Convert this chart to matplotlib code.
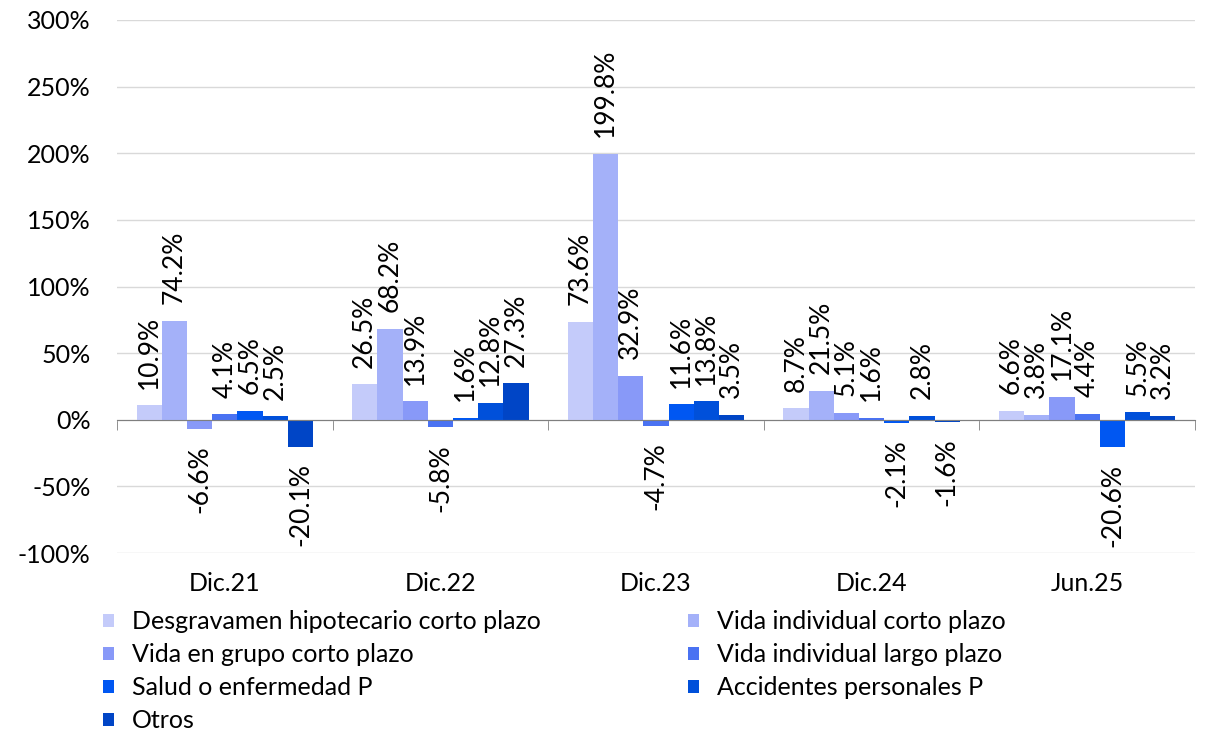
import numpy as np
import matplotlib.pyplot as plt
from matplotlib.ticker import FuncFormatter
from matplotlib.transforms import blended_transform_factory

plt.rcParams['font.family'] = ['Lato', 'DejaVu Sans']

periods = ["Dic.21", "Dic.22", "Dic.23", "Dic.24", "Jun.25"]

series_names = [
    "Desgravamen hipotecario corto plazo",
    "Vida individual corto plazo",
    "Vida en grupo corto plazo",
    "Vida individual largo plazo",
    "Salud o enfermedad P",
    "Accidentes personales P",
    "Otros",
]

desgravamen = [10.9, 26.5, 73.6, 8.7, 6.6]
vida_ind_corto = [74.2, 68.2, 199.8, 21.5, 3.8]
vida_grupo_corto = [-6.6, 13.9, 32.9, 5.1, 17.1]
vida_ind_largo = [4.1, -5.8, -4.7, 1.6, 4.4]
salud = [6.5, 1.6, 11.6, -2.1, -20.6]
accidentes = [2.5, 12.8, 13.8, 2.8, 5.5]
otros = [-20.1, 27.3, 3.5, -1.6, 3.2]

series_values = [desgravamen, vida_ind_corto, vida_grupo_corto,
                 vida_ind_largo, salud, accidentes, otros]

colors = ["#C4CBFA", "#A4B1F9", "#8899F8", "#4A72F2",
          "#0057F2", "#0050DA", "#0045C6"]

fig = plt.figure(figsize=(12.1, 7.32), dpi=100)
ax = fig.add_axes([0.0967, 0.2445, 0.8909, 0.7282])

x = np.arange(len(periods))
width = 0.117
n = len(series_values)

for i, (vals, color) in enumerate(zip(series_values, colors)):
    offs = (i - (n - 1) / 2) * width
    bars = ax.bar(x + offs, vals, width, color=color, zorder=3,
                  label=series_names[i])
    for rect, v in zip(bars, vals):
        cx = rect.get_x() + rect.get_width() / 2
        if v >= 0:
            ax.annotate(f"{v:.1f}%", (cx, v), xytext=(0, 12),
                        textcoords="offset points", rotation=90,
                        ha="center", va="bottom", fontsize=19)
        else:
            ax.annotate(f"{v:.1f}%", (cx, v), xytext=(0, -12),
                        textcoords="offset points", rotation=90,
                        ha="center", va="top", fontsize=19)

ax.set_xlim(-0.5, len(periods) - 0.5)
ax.set_ylim(-100, 300)
ax.set_yticks(np.arange(-100, 301, 50))
ax.yaxis.set_major_formatter(FuncFormatter(lambda v, _: f"{v:.0f}%"))
ax.tick_params(axis="y", length=0, pad=19, labelsize=18)
ax.grid(axis="y", color="#D9D9D9", linewidth=1, zorder=0)

for side in ["left", "right", "top"]:
    ax.spines[side].set_visible(False)
ax.spines["bottom"].set_position(("data", 0))
ax.spines["bottom"].set_color("#7F7F7F")
ax.spines["bottom"].set_zorder(4)

# category separators on the zero line, labels along the bottom
ax.set_xticks(x)
ax.set_xticklabels([])
ax.tick_params(axis="x", which="major", length=0)
ax.set_xticks(np.arange(-0.5, len(periods)), minor=True)
ax.tick_params(axis="x", which="minor", length=7, color="#7F7F7F", direction="out")

trans = blended_transform_factory(ax.transData, ax.transAxes)
for xi, name in zip(x, periods):
    ax.text(xi, -0.035, name, transform=trans, ha="center", va="top", fontsize=18)

handles, labels = ax.get_legend_handles_labels()
order = [0, 2, 4, 6, 1, 3, 5]
fig.legend([handles[i] for i in order], [labels[i] for i in order],
           loc="upper left", bbox_to_anchor=(0.085, 0.166), ncol=2,
           frameon=False, fontsize=18, handlelength=0.45, handleheight=0.45,
           handletextpad=0.7, columnspacing=5.9, labelspacing=0.40,
           borderaxespad=0, borderpad=0)

fig.savefig("out.png", dpi=100)
